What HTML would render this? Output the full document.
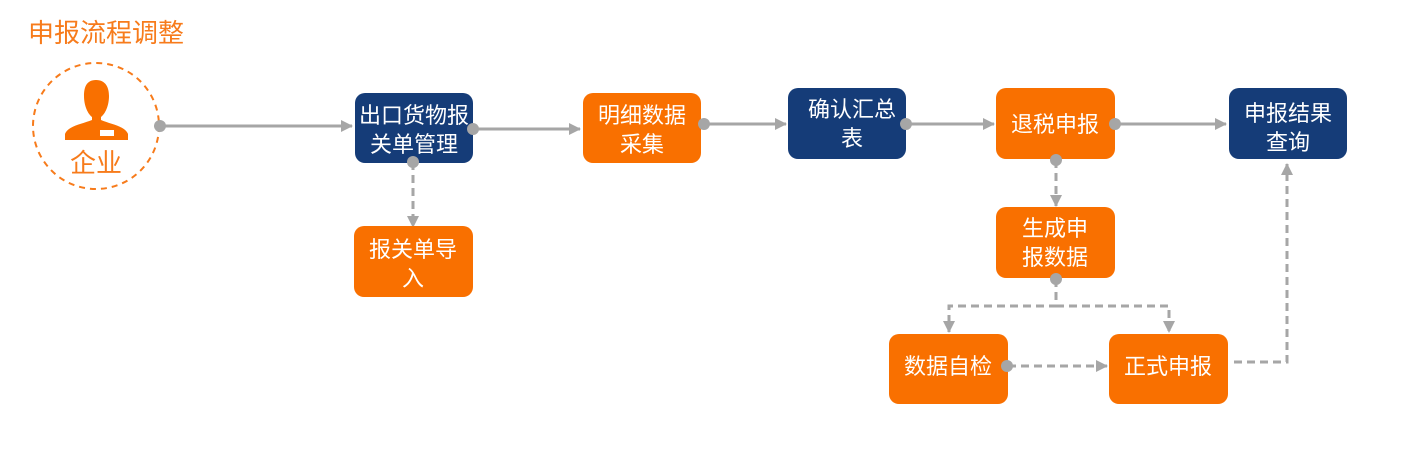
<!DOCTYPE html>
<html><head><meta charset="utf-8"><style>
html,body{margin:0;padding:0;background:#fff;}
svg{display:block;}
text{font-family:"Liberation Sans","Noto Sans CJK SC",sans-serif;}
</style></head><body>
<svg width="1408" height="456" viewBox="0 0 1408 456" xmlns="http://www.w3.org/2000/svg">
<defs>
<marker id="ah2" markerWidth="12" markerHeight="12" refX="11" refY="6" orient="auto" markerUnits="userSpaceOnUse">
<path d="M0,0 L12,6 L0,12 Z" fill="#A6A6A6"/></marker>
</defs>
<text x="28" y="42" font-size="26" fill="#F77B1B">申报流程调整</text>
<circle cx="96" cy="126" r="63" fill="none" stroke="#F77B1B" stroke-width="2" stroke-dasharray="6,5"/>
<path d="M96,80 C86,80 84,88 84,96 C84,106 88,114 92,117 L92,120 C82,124 68,126 65,134 L65,140 L128,140 L128,134 C125,126 110,124 101,120 L101,117 C105,114 109,106 109,96 C109,88 106,80 96,80 Z" fill="#F97000"/>
<rect x="100" y="130" width="14" height="6" fill="#fff"/>
<text x="96" y="172" font-size="26" fill="#F77B1B" text-anchor="middle">企业</text>

<g stroke="#A6A6A6" stroke-width="3" fill="none">
<line x1="160" y1="126" x2="352" y2="126" marker-end="url(#ah2)"/>
<line x1="473" y1="129" x2="580" y2="129" marker-end="url(#ah2)"/>
<line x1="704" y1="124" x2="786" y2="124" marker-end="url(#ah2)"/>
<line x1="906" y1="124" x2="994" y2="124" marker-end="url(#ah2)"/>
<line x1="1115" y1="124" x2="1226" y2="124" marker-end="url(#ah2)"/>
</g>
<g stroke="#A6A6A6" stroke-width="3" fill="none" stroke-dasharray="8,5">
<line x1="413" y1="162" x2="413" y2="227" marker-end="url(#ah2)"/>
<line x1="1056" y1="160" x2="1056" y2="206" marker-end="url(#ah2)"/>
<polyline points="1056,279 1056,306 949,306 949,332" marker-end="url(#ah2)"/>
<polyline points="1056,306 1169,306 1169,332" marker-end="url(#ah2)"/>
<line x1="1008" y1="366" x2="1107" y2="366" marker-end="url(#ah2)"/>
<polyline points="1234,362 1287,362 1287,164" marker-end="url(#ah2)"/>
</g>

<g font-size="22" fill="#fff" text-anchor="middle">
<rect x="355" y="93" width="118" height="70" rx="10" fill="#153C78"/>
<text x="414" y="123">出口货物报</text><text x="414" y="152">关单管理</text>
<rect x="354" y="226" width="119" height="71" rx="10" fill="#F97000"/>
<text x="413" y="257">报关单导</text><text x="413" y="286">入</text>
<rect x="583" y="93" width="118" height="70" rx="10" fill="#F97000"/>
<text x="642" y="123">明细数据</text><text x="642" y="152">采集</text>
<rect x="788" y="88" width="118" height="71" rx="10" fill="#153C78"/>
<text x="852" y="117">确认汇总</text><text x="852" y="146">表</text>
<rect x="996" y="88" width="119" height="71" rx="10" fill="#F97000"/>
<text x="1055" y="132">退税申报</text>
<rect x="1229" y="88" width="118" height="71" rx="10" fill="#153C78"/>
<text x="1288" y="121">申报结果</text><text x="1288" y="150">查询</text>
<rect x="996" y="207" width="119" height="71" rx="10" fill="#F97000"/>
<text x="1055" y="236">生成申</text><text x="1055" y="265">报数据</text>
<rect x="889" y="334" width="119" height="70" rx="10" fill="#F97000"/>
<text x="948" y="374">数据自检</text>
<rect x="1109" y="334" width="119" height="70" rx="10" fill="#F97000"/>
<text x="1168" y="374">正式申报</text>
</g>
<g fill="#A6A6A6">
<circle cx="160" cy="126" r="6"/><circle cx="473" cy="129" r="6"/><circle cx="413" cy="162" r="6"/>
<circle cx="704" cy="124" r="6"/><circle cx="906" cy="124" r="6"/><circle cx="1115" cy="124" r="6"/>
<circle cx="1056" cy="160" r="6"/><circle cx="1056" cy="279" r="6"/><circle cx="1007" cy="366" r="6"/>
</g>
</svg>
</body></html>
